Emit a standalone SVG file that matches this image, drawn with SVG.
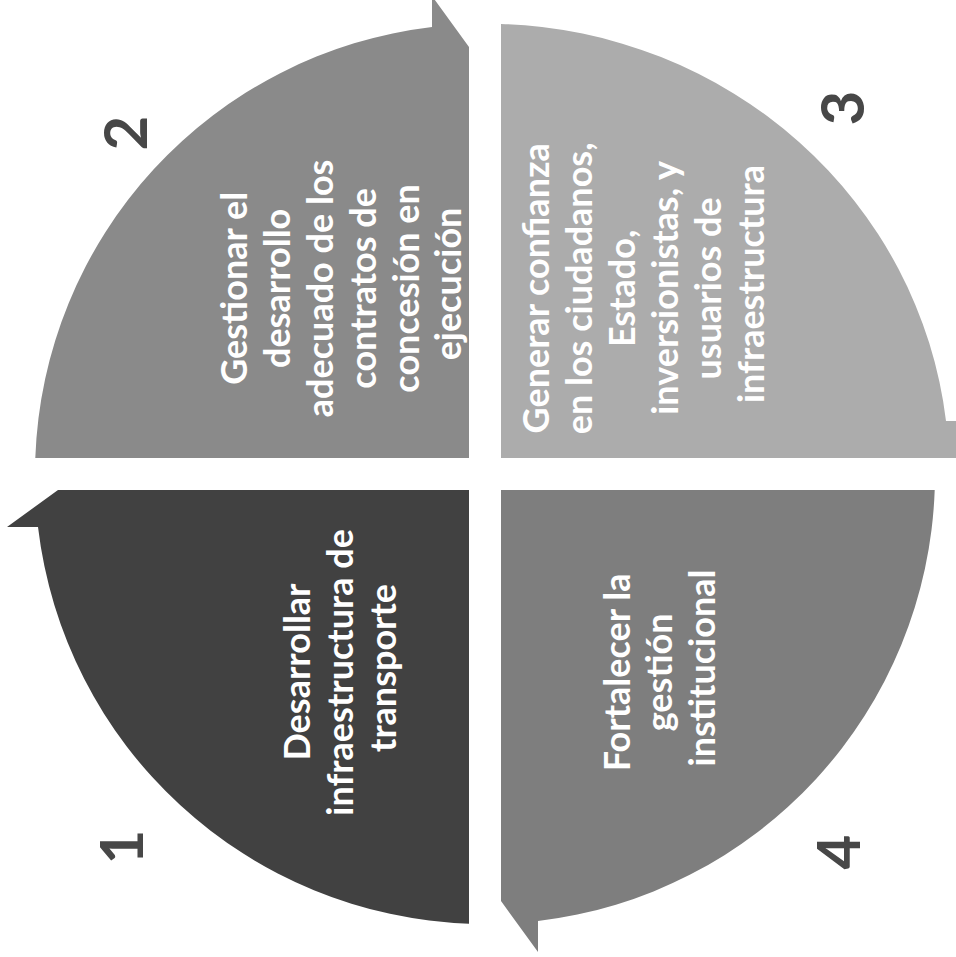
<svg xmlns="http://www.w3.org/2000/svg" width="956" height="957" viewBox="0 0 956 957">
  <style>
    .lbl { font-family: "Lato", "Open Sans", "Liberation Sans", sans-serif; font-weight: bold; font-size: 36px; fill: #ffffff; text-anchor: middle; }
    .num { font-family: "Lato", "Open Sans", "Liberation Sans", sans-serif; font-weight: bold; font-size: 60px; fill: #474747; text-anchor: middle; }
  </style>
  <rect x="0" y="0" width="956" height="957" fill="#ffffff"/>
  <g id="connectors"/>
  <g id="q1">
    <path d="M469,490 L58,490 L7,527 L38,527 A450,450 0 0,0 469,923.7 Z" fill="#414141"/>
    <text class="lbl" transform="translate(0,668) rotate(-90)">
      <tspan x="0" y="310">Desarrollar</tspan>
      <tspan x="0" y="353">infraestructura de</tspan>
      <tspan x="0" y="396">transporte</tspan>
    </text>
    <text class="num" transform="translate(143,847) rotate(-90)">1</text>
  </g>
  <g id="q2">
    <path d="M469,458 L469,47 L432,-4 L432,27 A450,450 0 0,0 35.3,458 Z" fill="#8a8a8a"/>
    <text class="lbl" transform="translate(0,284) rotate(-90)">
      <tspan x="0" y="247">Gestionar el</tspan>
      <tspan x="0" y="290">desarrollo</tspan>
      <tspan x="0" y="333">adecuado de los</tspan>
      <tspan x="0" y="376">contratos de</tspan>
      <tspan x="0" y="419">concesión en</tspan>
      <tspan x="0" y="461">ejecución</tspan>
    </text>
    <text class="num" transform="translate(147,133) rotate(-90)">2</text>
  </g>
  <g id="q3">
    <path d="M501,458 L956,458 L956,421 L946,421 A463,450 0 0,0 501,24 Z" fill="#acacac"/>
    <text class="lbl" transform="translate(0,284) rotate(-90)">
      <tspan x="0" y="549">Generar confianza</tspan>
      <tspan x="0" y="592">en los ciudadanos,</tspan>
      <tspan x="0" y="635">Estado,</tspan>
      <tspan x="0" y="678">inversionistas, y</tspan>
      <tspan x="0" y="721">usuarios de</tspan>
      <tspan x="0" y="764">infraestructura</tspan>
    </text>
    <text class="num" transform="translate(864,108) rotate(-90)">3</text>
  </g>
  <g id="q4">
    <path d="M501,490 L501,901 L538,952 L538,921 A450,450 0 0,0 934.7,490 Z" fill="#7e7e7e"/>
    <text class="lbl" transform="translate(0,668) rotate(-90)">
      <tspan x="0" y="630">Fortalecer la</tspan>
      <tspan x="0" y="672">gestión</tspan>
      <tspan x="0" y="715">institucional</tspan>
    </text>
    <text class="num" transform="translate(860,852) rotate(-90)">4</text>
  </g>
</svg>
